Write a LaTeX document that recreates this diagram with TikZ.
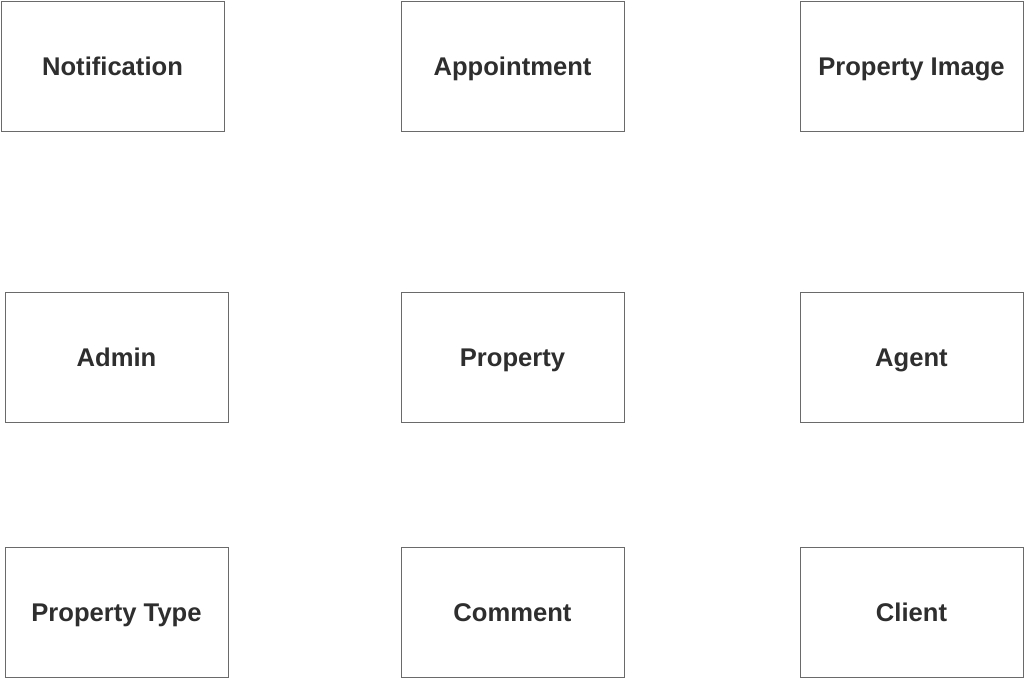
\documentclass[tikz,border=0pt]{standalone}
\usepackage{fontspec}
\setmainfont{Liberation Sans}
\usepackage{tikz}
\definecolor{boxline}{HTML}{6A6A6A}
\definecolor{boxtext}{HTML}{2E2E2E}

\begin{document}
\begin{tikzpicture}[x=0.75pt,y=-0.75pt,
  entity/.style={draw=boxline, line width=0.6pt, fill=white, minimum width=167.25pt, minimum height=97.5pt,
    inner sep=0pt, text height=13.8pt, text depth=0pt, text=boxtext,
    font=\fontsize{19.2}{23}\selectfont\bfseries}]
%%% page size of the reference
\useasboundingbox (0,0) rectangle (1024,678);
%
%%% first row
\node[entity] (notification) at (112.5, 66) {Notification};
\node[entity] (appointment) at (512.5, 66) {Appointment};
\node[entity] (propimage) at (911.5, 66) {Property Image};
%%% second row
\node[entity] (admin) at (116.5, 357) {Admin};
\node[entity] (property) at (512.5, 357) {Property};
\node[entity] (agent) at (911.5, 357) {Agent};
%%% third row
\node[entity] (proptype) at (116.5, 612) {Property Type};
\node[entity] (comment) at (512.5, 612) {Comment};
\node[entity] (client) at (911.5, 612) {Client};
\end{tikzpicture}
\end{document}
